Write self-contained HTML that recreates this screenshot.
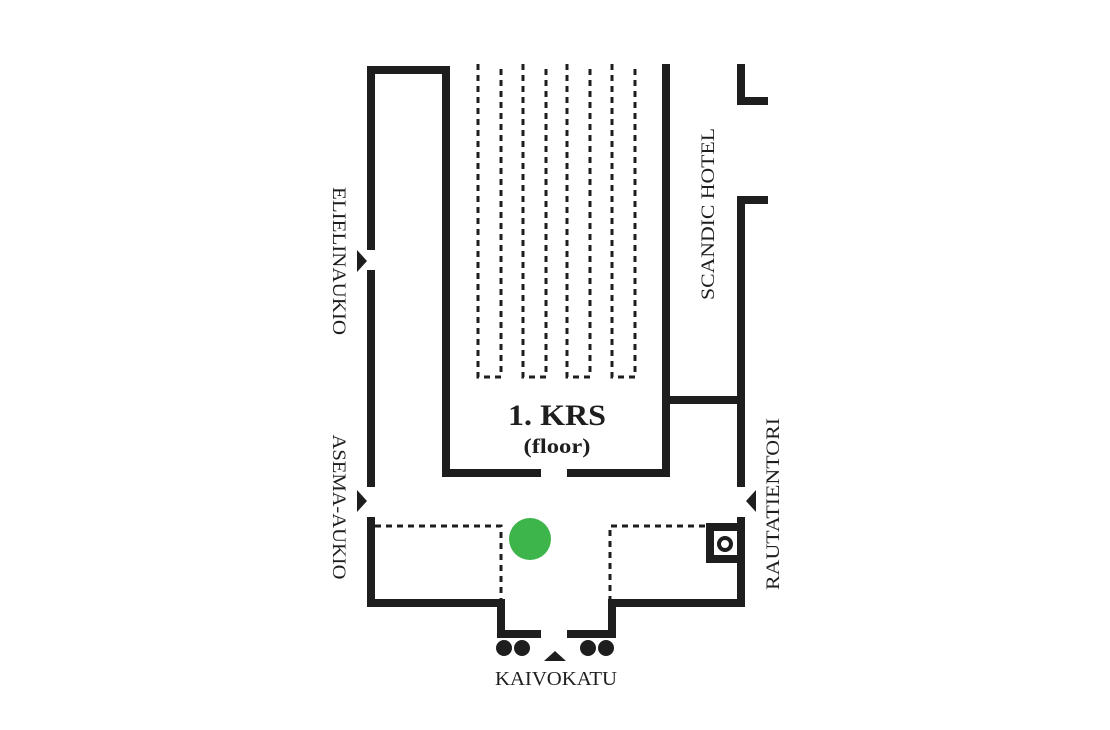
<!DOCTYPE html>
<html><head><meta charset="utf-8"><style>html,body{margin:0;padding:0;background:#fff}svg{display:block}</style></head>
<body>
<svg width="1110" height="730" viewBox="0 0 1110 730" xmlns="http://www.w3.org/2000/svg">
<g fill="none" stroke="#1e1e1e" stroke-width="8" stroke-linecap="butt" stroke-linejoin="miter">
<polyline points="371,250 371,70 446,70 446,473 541,473"/>
<line x1="371" y1="270" x2="371" y2="487"/>
<polyline points="371,517 371,603 501,603 501,634 541,634"/>
<polyline points="567,634 612,634 612,603 741,603 741,517"/>
<line x1="567" y1="473" x2="666" y2="473"/>
<line x1="666" y1="64" x2="666" y2="477"/>
<line x1="666" y1="400" x2="741" y2="400"/>
<polyline points="741,487 741,200 768,200"/>
<polyline points="741,64 741,101 768,101"/>
<rect x="710" y="527" width="31" height="32"/>
</g>
<g fill="none" stroke="#1e1e1e" stroke-width="3" stroke-dasharray="6,5">
<polyline points="478,64 478,377 501,377 501,64"/>
<polyline points="523,64 523,377 546,377 546,64"/>
<polyline points="567,64 567,377 590,377 590,64"/>
<polyline points="612,64 612,377 635,377 635,64"/>
<polyline points="375,526 501,526 501,602"/>
<polyline points="610,602 610,526 706,526"/>
</g>
<circle cx="725" cy="544" r="6" fill="none" stroke="#1e1e1e" stroke-width="4"/>
<circle cx="530" cy="539" r="21" fill="#3db54a"/>
<g fill="#1e1e1e">
<circle cx="504" cy="648" r="8"/><circle cx="522" cy="648" r="8"/>
<circle cx="588" cy="648" r="8"/><circle cx="606" cy="648" r="8"/>
<polygon points="357,250 367,261 357,272"/>
<polygon points="357,490 367,501 357,512"/>
<polygon points="756,490 746,501 756,512"/>
<polygon points="544,661 555,651 566,661"/>
</g>
<g font-family="Liberation Serif, serif" fill="#1e1e1e">
<text x="557" y="425" font-size="30" font-weight="bold" text-anchor="middle" textLength="98" lengthAdjust="spacingAndGlyphs">1. KRS</text>
<text x="557" y="453" font-size="21" font-weight="bold" text-anchor="middle" textLength="67" lengthAdjust="spacingAndGlyphs">(floor)</text>
<text x="556" y="685" font-size="20" text-anchor="middle" textLength="122" lengthAdjust="spacingAndGlyphs">KAIVOKATU</text>
<text transform="translate(333,261) rotate(90)" font-size="19" text-anchor="middle" textLength="148" lengthAdjust="spacingAndGlyphs">ELIELINAUKIO</text>
<text transform="translate(333,507) rotate(90)" font-size="19" text-anchor="middle" textLength="145" lengthAdjust="spacingAndGlyphs">ASEMA-AUKIO</text>
<text transform="translate(714,214) rotate(-90)" font-size="19" text-anchor="middle" textLength="172" lengthAdjust="spacingAndGlyphs">SCANDIC HOTEL</text>
<text transform="translate(779,504) rotate(-90)" font-size="19" text-anchor="middle" textLength="172" lengthAdjust="spacingAndGlyphs">RAUTATIENTORI</text>
</g>
</svg>
</body></html>
